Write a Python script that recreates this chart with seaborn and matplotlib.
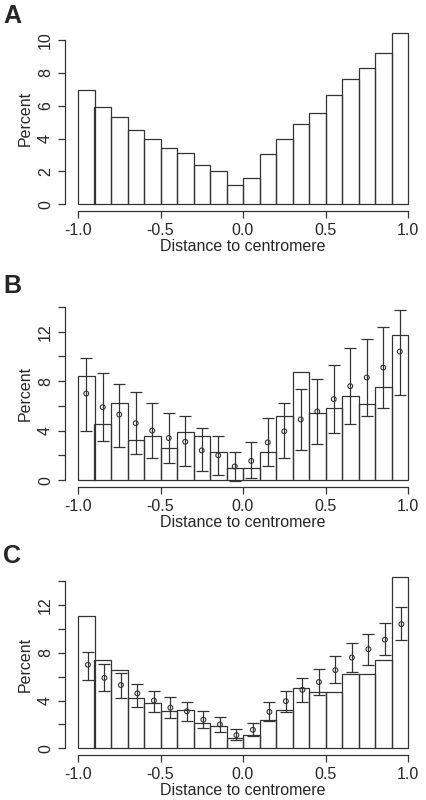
import numpy as np
import pandas as pd
import matplotlib
matplotlib.use("Agg")
import matplotlib.pyplot as plt
import seaborn as sns

sns.set_style("white")
plt.rcParams['font.family'] = ['Liberation Sans', 'DejaVu Sans']

edges = np.round(np.linspace(-1, 1, 21), 2)
centers = (edges[:-1] + edges[1:]) / 2

a_pct = [6.95, 5.95, 5.3, 4.55, 3.95, 3.45, 3.1, 2.4, 2.0, 1.15,
         1.6, 3.05, 3.95, 4.9, 5.55, 6.65, 7.65, 8.3, 9.2, 10.45]
mean_pct = [7.0, 5.9, 5.3, 4.6, 4.0, 3.4, 3.1, 2.4, 2.0, 1.1,
            1.55, 3.05, 3.95, 4.9, 5.55, 6.55, 7.6, 8.3, 9.1, 10.4]

b_pct = [8.45, 4.55, 6.2, 3.25, 3.55, 2.6, 3.85, 3.55, 2.25, 0.95,
         0.95, 2.25, 5.2, 8.75, 5.45, 5.8, 6.8, 6.15, 7.5, 11.7]
b_lo = [4.0, 3.2, 2.7, 2.15, 1.75, 1.35, 1.1, 0.7, 0.4, -0.05,
        0.15, 1.1, 1.75, 2.4, 2.95, 3.8, 4.55, 5.15, 5.85, 6.9]
b_hi = [9.85, 8.65, 7.8, 7.1, 6.2, 5.4, 5.15, 4.2, 3.6, 2.3,
        3.05, 5.05, 6.2, 7.35, 8.2, 9.3, 10.7, 11.4, 12.4, 13.8]

c_pct = [11.05, 7.4, 6.6, 4.2, 3.8, 3.1, 3.25, 2.15, 1.9, 0.85,
         1.1, 2.4, 3.2, 5.05, 4.75, 4.75, 6.2, 6.25, 7.4, 14.35]
c_lo = [5.7, 4.8, 4.2, 3.5, 3.05, 2.55, 2.3, 1.7, 1.35, 0.7,
        1.0, 2.3, 3.05, 3.85, 4.45, 5.45, 6.4, 7.0, 7.85, 9.05]
c_hi = [8.1, 7.05, 6.3, 5.4, 4.8, 4.3, 3.85, 3.15, 2.65, 1.6,
        2.1, 3.85, 4.8, 5.85, 6.65, 7.75, 8.85, 9.6, 10.5, 11.8]

W, H = 426, 800
fig = plt.figure(figsize=(W / 100, H / 100), dpi=100)

def make_ax(bottom_px, ylim, pxu):
    left = 78 - 0.08 * 165
    width = 2.16 * 165
    height = (ylim[1] - ylim[0]) * pxu
    return fig.add_axes([left / W, (H - bottom_px) / H, width / W, height / H])

def style(ax, ylim, yticks, ylabels, ytop):
    ax.set_xlim(-1.08, 1.08)
    ax.set_ylim(*ylim)
    for s in ['top', 'right']:
        ax.spines[s].set_visible(False)
    for s in ['left', 'bottom']:
        ax.spines[s].set_color('#333333')
        ax.spines[s].set_linewidth(0.9)
    ax.spines['bottom'].set_bounds(-1, 1)
    ax.spines['left'].set_bounds(0, ytop)
    ax.set_xticks([-1, -0.5, 0, 0.5, 1])
    ax.set_xticklabels(['-1.0', '-0.5', '0.0', '0.5', '1.0'])
    ax.set_yticks(yticks)
    ax.set_yticklabels(ylabels, rotation=90, va='center')
    ax.tick_params(axis='both', direction='out', length=5, width=0.9,
                   color='#333333', labelsize=11.5, left=True, bottom=True)
    ax.set_xlabel('Distance to centromere', fontsize=11.5, labelpad=1)
    ax.set_ylabel('Percent', fontsize=11.5, labelpad=4)
    ax.grid(False)

def hist(ax, vals):
    df = pd.DataFrame({'x': centers, 'w': vals})
    sns.histplot(data=df, x='x', weights='w', binwidth=0.1, binrange=(-1, 1),
                 fill=False, color='#333333', linewidth=0.9, ax=ax)

def errs(ax, lo, hi, dx):
    x = centers + dx
    mid = np.array(mean_pct)
    ax.errorbar(x, mid, yerr=[mid - np.array(lo), np.array(hi) - mid],
                fmt='none', ecolor='#333333', elinewidth=0.9, capsize=4, capthick=0.9)
    sns.scatterplot(x=x, y=mid, marker='o', s=12, facecolor='none',
                    edgecolor='#333333', linewidth=0.8, ax=ax)

ylimA = (-0.418, 10.868)
axA = make_ax(211, ylimA, 16.4)
hist(axA, a_pct)
style(axA, ylimA, [0, 2, 4, 6, 8, 10], ['0', '2', '4', '6', '8', '10'], 10)

ylimB = (-0.56, 14.56)
axB = make_ax(487, ylimB, 12.36)
hist(axB, b_pct)
errs(axB, b_lo, b_hi, 0.0)
style(axB, ylimB, [0, 2, 4, 6, 8, 10, 12, 14], ['0', '', '4', '', '8', '', '12', ''], 14)

ylimC = (-0.56, 14.56)
axC = make_ax(755, ylimC, 11.94)
hist(axC, c_pct)
errs(axC, c_lo, c_hi, 0.01)
style(axC, ylimC, [0, 2, 4, 6, 8, 10, 12, 14], ['0', '', '4', '', '8', '', '12', ''], 14)

for lab, y in [('A', 16), ('B', 286), ('C', 556)]:
    fig.text(3 / W, 1 - y / H, lab, fontsize=18, fontweight='bold', va='center', ha='left')

fig.savefig('out.png', dpi=100)
